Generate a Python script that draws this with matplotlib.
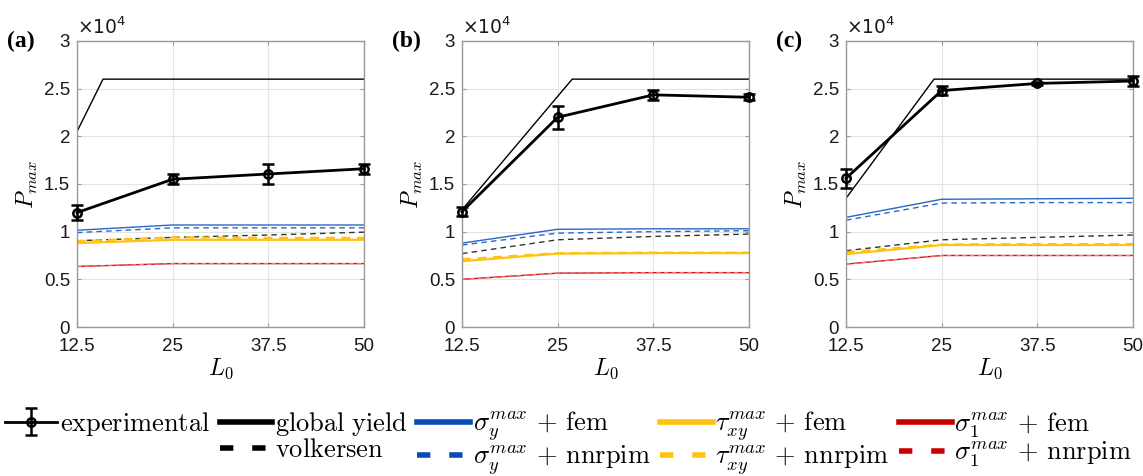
import matplotlib
matplotlib.use("Agg")
import matplotlib.pyplot as plt
from matplotlib.lines import Line2D
from matplotlib.ticker import FuncFormatter, FixedLocator
import numpy as np

plt.rcParams['mathtext.fontset'] = 'cm'
plt.rcParams['font.family'] = ['Liberation Sans', 'DejaVu Sans']

L0 = [12.5, 25, 37.5, 50]
panel_labels = ['(a)', '(b)', '(c)']

# experimental (N) and error bars
exp_vals = [[12000, 15500, 16050, 16600],
            [12100, 22000, 24350, 24100],
            [15600, 24800, 25550, 25800]]
exp_err = [[770, 500, 1000, 500],
           [500, 1200, 500, 300],
           [1000, 500, 200, 500]]

# global yield: linear rise then cap
gy_x = [[12.5, 15.9, 50], [12.5, 26.9, 50], [12.5, 24.0, 50]]
gy_y = [[20500, 26000, 26000], [12300, 26000, 26000], [13500, 26000, 26000]]

volkersen = [[9050, 9400, 9650, 9950],
             [7700, 9150, 9500, 9750],
             [8000, 9150, 9400, 9650]]
sy_fem = [[10150, 10700, 10700, 10700],
          [8800, 10250, 10300, 10300],
          [11500, 13400, 13450, 13500]]
sy_nn = [[9900, 10400, 10400, 10400],
         [8600, 9850, 10000, 10100],
         [11200, 13000, 13050, 13050]]
txy_fem = [[8800, 9150, 9150, 9150],
           [6900, 7700, 7750, 7750],
           [7650, 8600, 8600, 8600]]
txy_nn = [[9000, 9400, 9350, 9350],
          [7100, 7750, 7800, 7800],
          [7850, 8650, 8700, 8700]]
s1_fem = [[6350, 6650, 6650, 6650],
          [5000, 5650, 5700, 5700],
          [6600, 7500, 7500, 7500]]
s1_nn = [[6350, 6650, 6650, 6650],
         [5000, 5650, 5700, 5700],
         [6600, 7500, 7500, 7500]]

c_blue = '#2a68c4'
c_yel = '#ffc20e'
c_red = '#d41010'
c_blue_leg = '#0a4bb4'
c_red_leg = '#c80000'

fig = plt.figure(figsize=(11.43, 4.76), dpi=100)
lefts = [77 / 1143, 462 / 1143, 846 / 1143]
W = 287 / 1143
B = (476 - 327) / 476
H = 286 / 476

eb_handle = None
for i in range(3):
    ax = fig.add_axes([lefts[i], B, W, H])
    lw = 1.0
    ax.plot(L0, sy_fem[i], color=c_blue, lw=lw)
    ax.plot(L0, sy_nn[i], color=c_blue, lw=lw, ls=(0, (4, 3)))
    ax.plot(L0, volkersen[i], color='#333333', lw=lw, ls=(0, (4, 3)))
    ax.plot(L0, txy_fem[i], color=c_yel, lw=1.6)
    ax.plot(L0, txy_nn[i], color=c_yel, lw=1.6, ls=(0, (4, 3)))
    ax.plot(L0, s1_fem[i], color=c_red, lw=lw)
    ax.plot(L0, s1_nn[i], color='#f08080', lw=0.8, ls=(0, (4, 3)))
    ax.plot(gy_x[i], gy_y[i], color='black', lw=1.0)
    eb = ax.errorbar(L0, exp_vals[i], yerr=exp_err[i], color='black', lw=2.0,
                     marker='o', ms=6, mfc='none', mew=1.8, capsize=4, elinewidth=1.8,
                     capthick=1.8, clip_on=False, zorder=5)
    if eb_handle is None:
        eb_handle = eb
    ax.set_xlim(12.5, 50)
    ax.set_ylim(0, 30000)
    ax.xaxis.set_major_locator(FixedLocator(L0))
    ax.set_xticklabels(['12.5', '25', '37.5', '50'])
    ax.yaxis.set_major_locator(FixedLocator(np.arange(0, 30001, 5000)))
    ax.yaxis.set_major_formatter(FuncFormatter(lambda v, p: f'{v / 1e4:g}'))
    ax.grid(True, color='#e4e4e4', lw=0.8)
    ax.set_axisbelow(True)
    for s in ax.spines.values():
        s.set_color('#9a9a9a')
        s.set_linewidth(1.0)
    ax.tick_params(direction='in', length=3, color='#9a9a9a', labelsize=13.5,
                   labelcolor='#1a1a1a', top=True, right=True)
    ax.tick_params(axis='x', pad=8)
    ax.tick_params(axis='y', pad=5)
    ax.set_xlabel(r'$L_0$', fontsize=17, labelpad=1)
    ax.set_ylabel(r'$P_{max}$', fontsize=17, labelpad=3)
    ax.text(0.0, 1.01, r'$\times10^4$', transform=ax.transAxes, fontsize=13.5,
            ha='left', va='bottom', math_fontfamily='dejavusans', color='#1a1a1a')
    ax.text(-0.245, 1.0, panel_labels[i], transform=ax.transAxes, fontsize=17,
            fontweight='bold', family=['Liberation Serif'], ha='left', va='center')

# legend
dash = (0, (2.4, 3.4))
hs = [
    eb_handle,
    Line2D([], [], color='none'),
    Line2D([], [], color='black', lw=4),
    Line2D([], [], color='black', lw=4, ls=dash),
    Line2D([], [], color=c_blue_leg, lw=4),
    Line2D([], [], color=c_blue_leg, lw=4, ls=dash),
    Line2D([], [], color=c_yel, lw=4),
    Line2D([], [], color=c_yel, lw=4, ls=dash),
    Line2D([], [], color=c_red_leg, lw=4),
    Line2D([], [], color=c_red_leg, lw=4, ls=dash),
]
labels = [
    r'$\mathrm{experimental}$', '',
    r'$\mathrm{global\ yield}$', r'$\mathrm{volkersen}$',
    r'$\sigma_y^{max}\,+\,\mathrm{fem}$', r'$\sigma_y^{max}\,+\,\mathrm{nnrpim}$',
    r'$\tau_{xy}^{max}\,+\,\mathrm{fem}$', r'$\tau_{xy}^{max}\,+\,\mathrm{nnrpim}$',
    r'$\sigma_1^{max}\,+\,\mathrm{fem}$', r'$\sigma_1^{max}\,+\,\mathrm{nnrpim}$',
]
fig.legend(hs, labels, ncol=5, loc='upper left', bbox_to_anchor=(0.004, 0.14),
           frameon=False, fontsize=19.0, handlelength=2.0, handletextpad=0.1,
           columnspacing=0.36, labelspacing=0.0, borderaxespad=0, borderpad=0)

fig.savefig('out.png', dpi=100)
